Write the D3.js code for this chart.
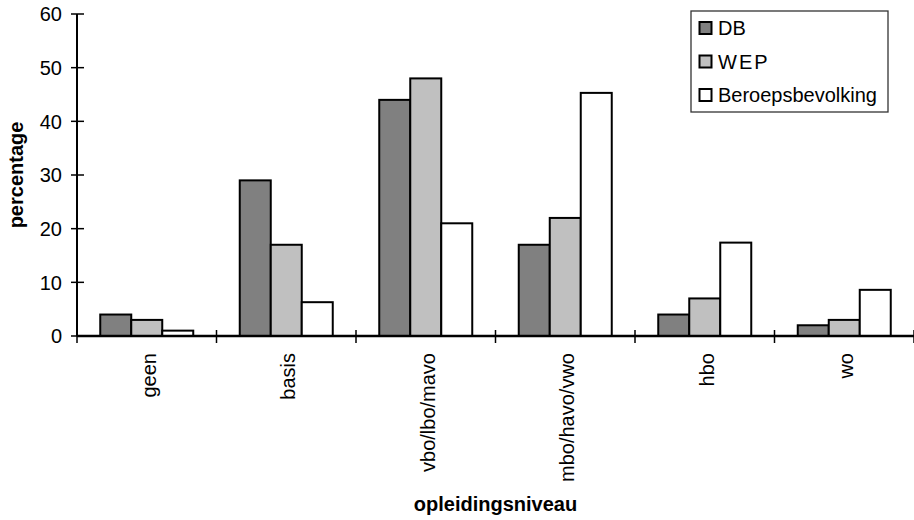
<!DOCTYPE html>
<html>
<head>
<meta charset="utf-8">
<script src="https://cdn.jsdelivr.net/npm/d3@7/dist/d3.min.js"></script>
<style>
  html, body { margin: 0; padding: 0; background: #fff; }
  svg { display: block; font-family: "Liberation Sans", Arial, sans-serif; }
</style>
</head>
<body>
<svg id="chart" width="914" height="520"></svg>
<script>
const categories = ["geen", "basis", "vbo/lbo/mavo", "mbo/havo/vwo", "hbo", "wo"];
const seriesNames = ["DB", "WEP", "Beroepsbevolking"];
const dbValues = [4, 29, 44, 17, 4, 2];
const wepValues = [3, 17, 48, 22, 7, 3];
const beroepsValues = [1, 6.3, 21, 45.3, 17.4, 8.6];
const yTicks = [0, 10, 20, 30, 40, 50, 60];
const seriesColors = ["#808080", "#c0c0c0", "#ffffff"];
const xTitle = "opleidingsniveau";
const yTitle = "percentage";

const seriesValues = [dbValues, wepValues, beroepsValues];
const svg = d3.select("#chart");

const x0 = 77, x1 = 914, yTop = 14, yBottom = 336;

const x = d3.scaleBand().domain(categories).range([x0, x1]).paddingInner(0).paddingOuter(0);
const bw = x.bandwidth() / 4.5;          // Excel gap width 150%
const gap = bw * 0.75;
const xs = d3.scaleBand().domain(seriesNames).range([gap, gap + 3 * bw]);
const y = d3.scaleLinear().domain([0, 60]).range([yBottom, yTop]);

// bars
const rows = [];
categories.forEach((c, i) => {
  seriesNames.forEach((s, j) => rows.push({ c, s, j, v: seriesValues[j][i] }));
});
svg.append("g").selectAll("rect").data(rows).join("rect")
  .attr("x", d => x(d.c) + xs(d.s))
  .attr("y", d => y(d.v))
  .attr("width", xs.bandwidth())
  .attr("height", d => y(0) - y(d.v))
  .attr("fill", d => seriesColors[d.j])
  .attr("stroke", "#000")
  .attr("stroke-width", 2);

// y axis
const yAxis = svg.append("g");
yAxis.append("line").attr("x1", x0).attr("x2", x0).attr("y1", yTop).attr("y2", yBottom)
  .attr("stroke", "#000").attr("stroke-width", 2);
yAxis.selectAll("line.tick").data(yTicks).join("line").attr("class", "tick")
  .attr("x1", x0 - 6).attr("x2", x0 + 7)
  .attr("y1", d => y(d)).attr("y2", d => y(d))
  .attr("stroke", "#000").attr("stroke-width", 1.5);
yAxis.selectAll("text").data(yTicks).join("text")
  .attr("x", 62).attr("y", d => y(d)).attr("dy", "0.36em")
  .attr("text-anchor", "end").attr("font-size", 20).attr("fill", "#000")
  .text(d => d);

// x axis
const xAxis = svg.append("g");
xAxis.append("line").attr("x1", x0).attr("x2", x1).attr("y1", yBottom).attr("y2", yBottom)
  .attr("stroke", "#000").attr("stroke-width", 2.5);
const bounds = categories.map(c => x(c)).concat([x1]);
xAxis.selectAll("line.tick").data(bounds).join("line").attr("class", "tick")
  .attr("x1", d => d).attr("x2", d => d)
  .attr("y1", yBottom - 6).attr("y2", yBottom + 7)
  .attr("stroke", "#000").attr("stroke-width", 1.5);
xAxis.selectAll("text").data(categories).join("text")
  .attr("transform", d => `translate(${x(d) + x.bandwidth() / 2 + 2},353) rotate(-90)`)
  .attr("dy", "0.36em")
  .attr("text-anchor", "end").attr("font-size", 20).attr("fill", "#000")
  .text(d => d);

// axis titles
svg.append("text").attr("x", (x0 + x1) / 2).attr("y", 511)
  .attr("text-anchor", "middle").attr("font-size", 20).attr("font-weight", "bold")
  .text(xTitle);
svg.append("text").attr("transform", "translate(23,175) rotate(-90)")
  .attr("text-anchor", "middle").attr("font-size", 20).attr("font-weight", "bold")
  .text(yTitle);

// legend
const lg = svg.append("g");
lg.append("rect").attr("x", 691).attr("y", 11).attr("width", 197).attr("height", 101)
  .attr("fill", "#fff").attr("stroke", "#333").attr("stroke-width", 1.3);
const items = lg.selectAll("g.item").data(seriesNames).join("g").attr("class", "item")
  .attr("transform", (d, i) => `translate(0,${28 + i * 33.5})`);
items.append("rect").attr("x", 699.5).attr("y", -6).attr("width", 12).attr("height", 12)
  .attr("fill", (d, i) => seriesColors[i]).attr("stroke", "#000").attr("stroke-width", 2);
items.append("text").attr("x", 718).attr("y", 0).attr("dy", "0.36em")
  .attr("font-size", 20).attr("fill", "#000")
  .attr("letter-spacing", d => d === "WEP" ? 2 : 0)
  .text(d => d);
</script>
</body>
</html>
